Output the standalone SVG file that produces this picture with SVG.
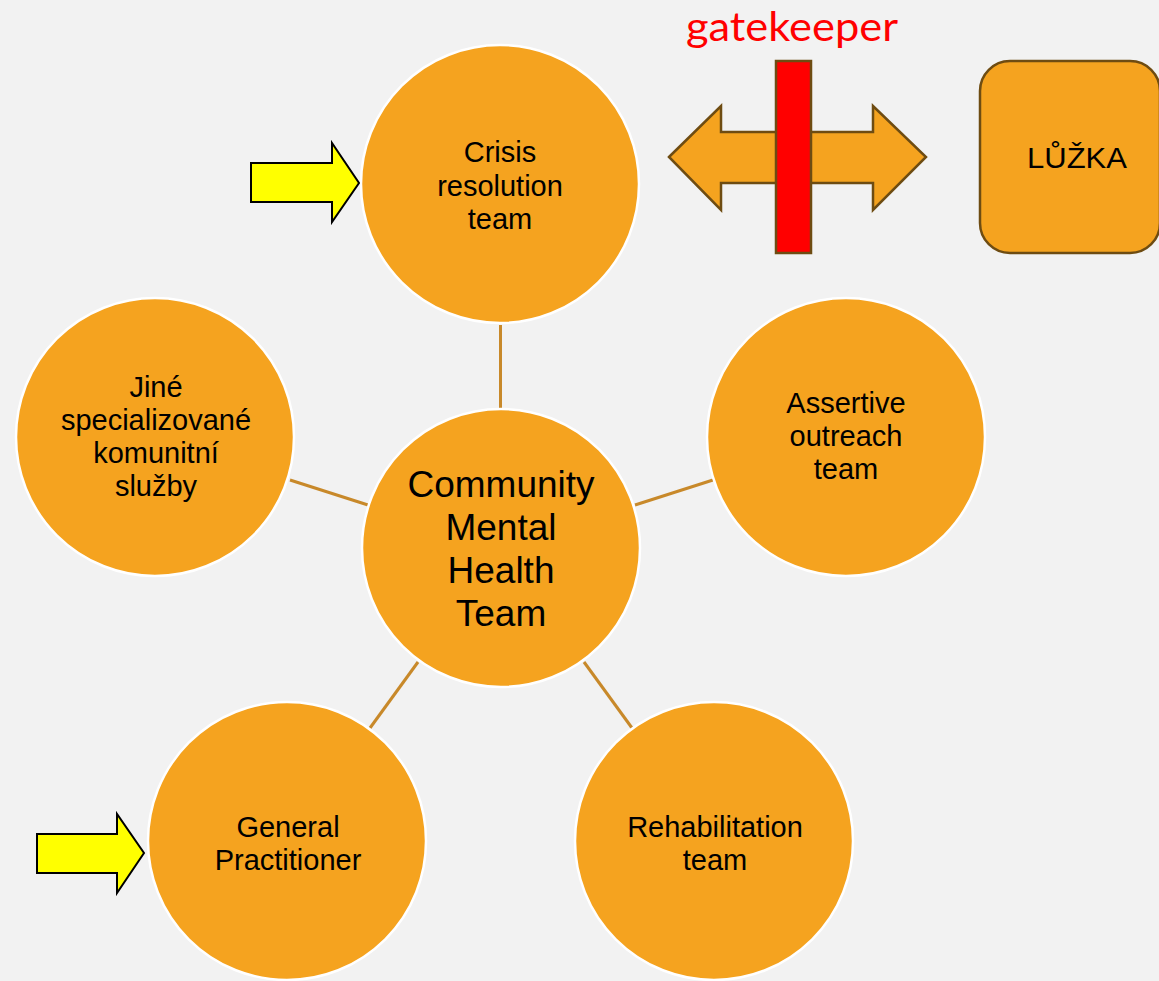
<svg xmlns="http://www.w3.org/2000/svg" width="1159" height="981" viewBox="0 0 1159 981">
  <style>
    .bg { fill: #f2f2f2; }
    .team { fill: #f5a31f; stroke: #ffffff; stroke-width: 2.5; }
    .link { stroke: #c8892a; stroke-width: 3; fill: none; }
    .label { font-family: "Liberation Sans", Arial, sans-serif; font-size: 29px; fill: #000; text-anchor: middle; }
    .big { font-family: "Liberation Sans", Arial, sans-serif; font-size: 37px; fill: #000; text-anchor: middle; }
    .pointer { fill: #ffff00; stroke: #000; stroke-width: 2; stroke-linejoin: miter; }
    .outline { stroke: #6e4c12; stroke-width: 2.5; }
  </style>
  <rect class="bg" x="0" y="0" width="1159" height="981"/>

  <!-- spokes from the central team -->
  <g id="connectors">
    <line class="link" x1="500.5" y1="325" x2="500.5" y2="409"/>
    <line class="link" x1="290" y1="480" x2="368" y2="505"/>
    <line class="link" x1="635" y1="505" x2="713" y2="480"/>
    <line class="link" x1="418" y1="662" x2="370" y2="728"/>
    <line class="link" x1="584" y1="662" x2="632" y2="728"/>
  </g>

  <g id="crisis">
    <circle class="team" cx="500" cy="184" r="139"/>
    <text class="label" x="500" y="162">Crisis</text>
    <text class="label" x="500" y="196">resolution</text>
    <text class="label" x="500" y="229">team</text>
  </g>

  <g id="other-services">
    <circle class="team" cx="155" cy="437" r="139"/>
    <text class="label" x="156" y="397">Jiné</text>
    <text class="label" x="156" y="430">specializované</text>
    <text class="label" x="156" y="463">komunitní</text>
    <text class="label" x="156" y="496">služby</text>
  </g>

  <g id="assertive">
    <circle class="team" cx="846" cy="437" r="139"/>
    <text class="label" x="846" y="413">Assertive</text>
    <text class="label" x="846" y="446">outreach</text>
    <text class="label" x="846" y="479">team</text>
  </g>

  <g id="cmht">
    <circle class="team" cx="501" cy="548" r="139"/>
    <text class="big" x="501" y="497">Community</text>
    <text class="big" x="501" y="540">Mental</text>
    <text class="big" x="501" y="583">Health</text>
    <text class="big" x="501" y="626">Team</text>
  </g>

  <g id="gp">
    <circle class="team" cx="287" cy="841" r="139"/>
    <text class="label" x="288" y="837">General</text>
    <text class="label" x="288" y="870">Practitioner</text>
  </g>

  <g id="rehab">
    <circle class="team" cx="714" cy="841" r="139"/>
    <text class="label" x="715" y="837">Rehabilitation</text>
    <text class="label" x="715" y="870">team</text>
  </g>

  <!-- entry points -->
  <g id="entry-crisis">
    <polygon class="pointer" points="251,163 332,163 332,143 359,183 332,222 332,202 251,202"/>
  </g>
  <g id="entry-gp">
    <polygon class="pointer" points="37,834 117,834 117,814 144,853 117,893 117,873 37,873"/>
  </g>

  <!-- access to beds, guarded -->
  <g id="beds-access">
    <polygon class="outline" fill="#f5a31f" points="669,157 721,106 721,132 873,132 873,106 926,157 873,210 873,183 721,183 721,210"/>
    <rect class="outline" fill="#ff0000" x="776" y="61" width="35" height="192"/>
    <text x="792" y="41" font-family="Lato, 'Open Sans', sans-serif" font-size="40" fill="#ff0000" text-anchor="middle" textLength="212" lengthAdjust="spacingAndGlyphs">gatekeeper</text>
  </g>

  <g id="beds">
    <rect class="outline" fill="#f5a31f" x="980" y="61" width="180" height="192" rx="30"/>
    <text x="1077" y="168" font-family="'Liberation Sans', Arial, sans-serif" font-size="29" fill="#000" text-anchor="middle" textLength="100" lengthAdjust="spacingAndGlyphs">LŮŽKA</text>
  </g>
</svg>
